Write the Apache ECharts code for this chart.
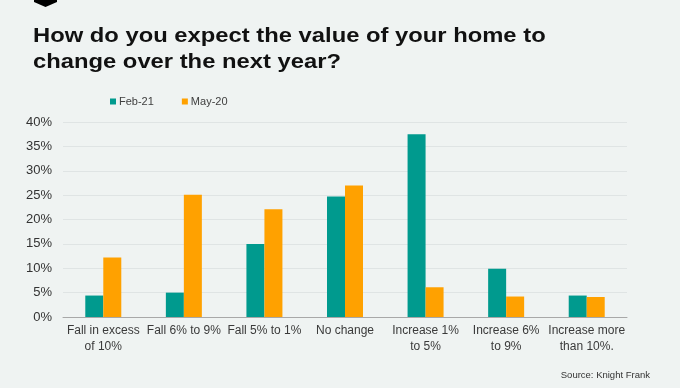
<!DOCTYPE html>
<html><head><meta charset="utf-8">
<script src="https://cdn.jsdelivr.net/npm/echarts@6/dist/echarts.min.js"></script>
<style>html,body{margin:0;padding:0;background:#eff3f2;}#c{width:680px;height:388px;}</style>
</head><body><div id="c"></div>
<script>
const categories = ["Fall in excess\nof 10%", "Fall 6% to 9%", "Fall 5% to 1%", "No change", "Increase 1%\nto 5%", "Increase 6%\nto 9%", "Increase more\nthan 10%."];
const feb21 = [4.4, 5.0, 15.0, 24.7, 37.5, 9.9, 4.4];
const may20 = [12.2, 25.1, 22.1, 27.0, 6.1, 4.2, 4.1];
const seriesNames = ["Feb-21", "May-20"];

const chart = echarts.init(document.getElementById('c'));
chart.setOption({
  backgroundColor: '#eff3f2',
  animation: false,
  textStyle: {fontFamily: 'Liberation Sans, Arial, sans-serif'},
  graphic: [
    {type: 'polygon', shape: {points: [[34,0],[57,0],[57,2],[45.5,7],[34,2]]}, style: {fill: '#000'}},
    {type: 'text', x: 33, y: 23, scaleX: 1.16, style: {text: 'How do you expect the value of your home to\nchange over the next year?', fontSize: 20.5, fontWeight: 'bold', lineHeight: 26, fill: '#111', fontFamily: 'Liberation Sans, Arial, sans-serif'}},
    {type: 'text', right: 30, top: 370, style: {text: 'Source: Knight Frank', fontSize: 9.5, fill: '#333', fontFamily: 'Liberation Sans, Arial, sans-serif'}}
  ],
  color: ['#009a8e', '#ffa100'],
  legend: {
    left: 105, top: 91, itemWidth: 6, itemHeight: 6, itemGap: 28, icon: 'rect',
    textStyle: {fontSize: 11, color: '#404040', padding: [0,0,0,-2]},
    data: seriesNames
  },
  grid: {left: 63, right: 53, top: 122, bottom: 71},
  xAxis: {
    type: 'category', data: categories,
    axisTick: {show: false},
    axisLine: {lineStyle: {color: '#a8a8a8'}},
    axisLabel: {interval: 0, fontSize: 12, color: '#3a3a3a', lineHeight: 16, margin: 6}
  },
  yAxis: {
    type: 'value', min: 0, max: 40, interval: 5,
    axisLabel: {formatter: '{value}%', fontSize: 13, color: '#333', margin: 11},
    splitLine: {lineStyle: {color: '#dfe4e4'}},
    axisLine: {show: false}, axisTick: {show: false}
  },
  series: [
    {name: seriesNames[0], type: 'bar', data: feb21, barWidth: 18, barGap: '0%'},
    {name: seriesNames[1], type: 'bar', data: may20, barWidth: 18, barGap: '0%'}
  ]
});
</script></body></html>
